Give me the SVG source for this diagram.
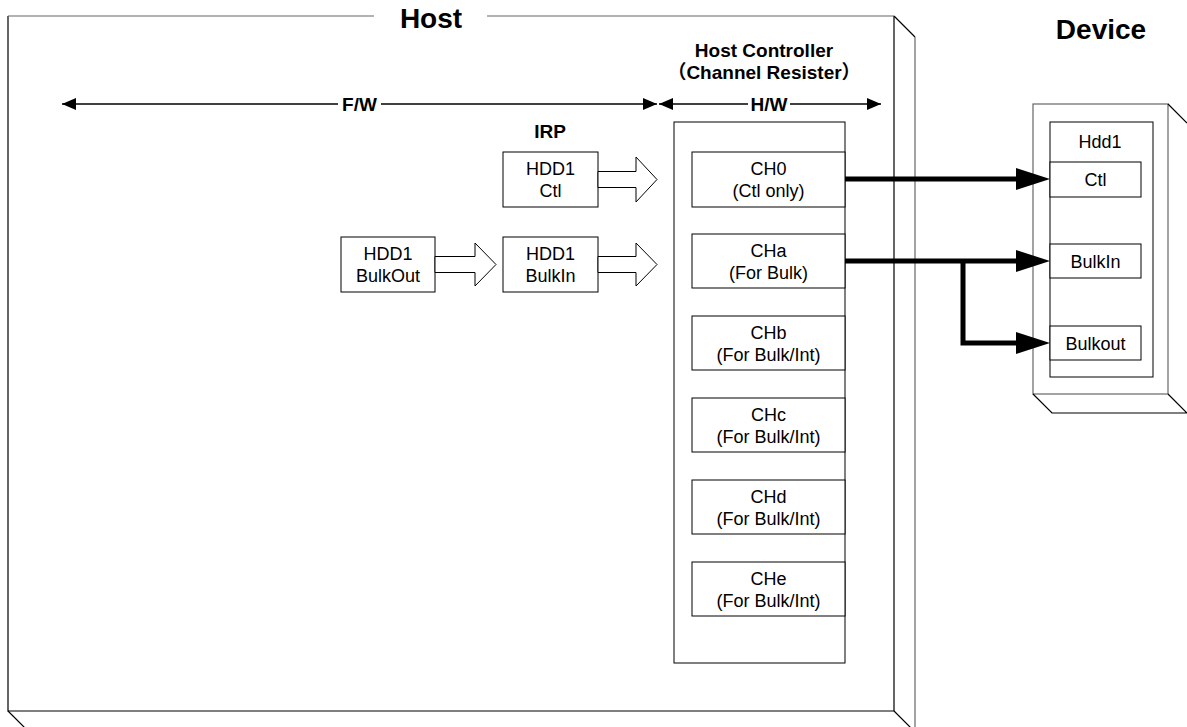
<svg xmlns="http://www.w3.org/2000/svg" width="1187" height="727" viewBox="0 0 1187 727">
<style>
text{font-family:"Liberation Sans",Arial,"Noto Sans CJK JP",sans-serif;fill:#000}
.t{font-size:18px;text-anchor:middle}
.b{font-size:19px;font-weight:bold;text-anchor:middle}
.big{font-size:28px;font-weight:bold;text-anchor:middle}
.box{fill:#fff;stroke:#000;stroke-width:1}
.edge{fill:none;stroke:#000;stroke-width:1.2}
.gedge{fill:none;stroke:#666;stroke-width:1.2}
.hol{fill:#fff;stroke:#000;stroke-width:1}
.thin{fill:none;stroke:#000;stroke-width:1.6}
.thick{fill:none;stroke:#000;stroke-width:5}
</style>
<defs>
<marker id="ah" viewBox="0 0 14 12" refX="14" refY="6" markerWidth="14" markerHeight="12" markerUnits="userSpaceOnUse" orient="auto-start-reverse"><path d="M0,0 L14,6 L0,12 z" fill="#000"/></marker>
<marker id="big" viewBox="0 0 34 22" refX="14" refY="11" markerWidth="34" markerHeight="22" markerUnits="userSpaceOnUse" orient="auto"><path d="M0,0 L34,11 L0,22 z" fill="#000"/></marker>
</defs>
<rect width="1187" height="727" fill="#fff"/>

<g id="host">
<path class="edge" d="M8,16 V711 H894 V16"/>
<path class="gedge" d="M8,16 H374 M487,16 H894"/>
<path class="edge" d="M894,16 L915,37 M894,711 L915,732 M8,711 L29,732"/>
<path class="gedge" d="M915,37 V732"/>
<text class="big" x="431" y="28">Host</text>
</g>

<g id="fw-hw">
<path class="thin" d="M62,104 H338" marker-start="url(#ah)"/>
<path class="thin" d="M381,104 H657" marker-end="url(#ah)"/>
<text class="b" x="359.5" y="111">F/W</text>
<path class="thin" d="M659,104 H748" marker-start="url(#ah)"/>
<path class="thin" d="M790,104 H881" marker-end="url(#ah)"/>
<text class="b" x="769" y="111">H/W</text>
</g>

<g id="irp-label"><text class="b" x="550" y="138">IRP</text></g>

<g id="irp-ctl">
<rect class="box" x="503" y="152" width="95" height="55"/>
<text class="t" x="550.5" y="175">HDD1</text>
<text class="t" x="550.5" y="197">Ctl</text>
</g>
<g id="irp-bulkin">
<rect class="box" x="503" y="237" width="95" height="55"/>
<text class="t" x="550.5" y="260">HDD1</text>
<text class="t" x="550.5" y="282">BulkIn</text>
</g>
<g id="irp-bulkout">
<rect class="box" x="341" y="237" width="94" height="55"/>
<text class="t" x="388" y="260">HDD1</text>
<text class="t" x="388" y="282">BulkOut</text>
</g>

<g id="host-controller">
<text class="b" x="764" y="57">Host Controller</text>
<text class="b" x="764" y="79">（Channel Resister）</text>
<rect class="box" x="674" y="122" width="171" height="541"/>
</g>
<g id="ch0"><rect class="box" x="692" y="152" width="153" height="55"/><text class="t" x="768.5" y="175">CH0</text><text class="t" x="768.5" y="197">(Ctl only)</text></g>
<g id="cha"><rect class="box" x="692" y="234" width="153" height="54"/><text class="t" x="768.5" y="256.5">CHa</text><text class="t" x="768.5" y="278.5">(For Bulk)</text></g>
<g id="chb"><rect class="box" x="692" y="316" width="153" height="54"/><text class="t" x="768.5" y="338.5">CHb</text><text class="t" x="768.5" y="360.5">(For Bulk/Int)</text></g>
<g id="chc"><rect class="box" x="692" y="398" width="153" height="54"/><text class="t" x="768.5" y="420.5">CHc</text><text class="t" x="768.5" y="442.5">(For Bulk/Int)</text></g>
<g id="chd"><rect class="box" x="692" y="480" width="153" height="54"/><text class="t" x="768.5" y="502.5">CHd</text><text class="t" x="768.5" y="524.5">(For Bulk/Int)</text></g>
<g id="che"><rect class="box" x="692" y="562" width="153" height="54"/><text class="t" x="768.5" y="584.5">CHe</text><text class="t" x="768.5" y="606.5">(For Bulk/Int)</text></g>

<g id="device">
<text class="big" x="1101" y="39">Device</text>
<rect x="1033" y="104" width="135" height="290" fill="#fff" stroke="#666" stroke-width="1.2"/>
<path class="edge" d="M1168,104 L1187,123 M1033,394 L1052,413 H1187 M1168,394 L1187,413"/>
<rect class="box" x="1050" y="122" width="103" height="255"/>
<text class="t" x="1100" y="148">Hdd1</text>
</g>
<g id="dev-ctl"><rect class="box" x="1050" y="162" width="91" height="35"/><text class="t" x="1095.5" y="186">Ctl</text></g>
<g id="dev-bulkin"><rect class="box" x="1050" y="244" width="91" height="34"/><text class="t" x="1095.5" y="267.5">BulkIn</text></g>
<g id="dev-bulkout"><rect class="box" x="1050" y="326" width="91" height="34"/><text class="t" x="1095.5" y="349.5">Bulkout</text></g>

<g id="connectors">
<polygon class="hol" points="598,171.5 636,171.5 636,157 657,179.5 636,202 636,187.5 598,187.5"/>
<polygon class="hol" points="598,256.5 636,256.5 636,243 657,264.5 636,286 636,272.5 598,272.5"/>
<polygon class="hol" points="435,256.5 475,256.5 475,243 496,264.5 475,286 475,272.5 435,272.5"/>
<path class="thick" d="M845,179 H1030" marker-end="url(#big)"/>
<path class="thick" d="M845,261 H1030" marker-end="url(#big)"/>
<path class="thick" d="M963,261 V343 H1030" marker-end="url(#big)"/>
</g>
</svg>
